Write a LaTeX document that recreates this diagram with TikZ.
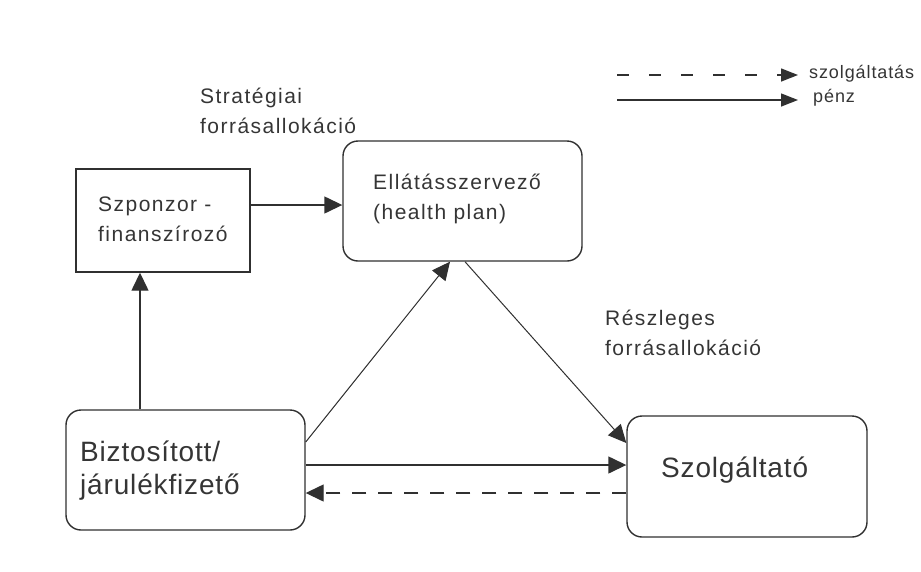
\documentclass[tikz,border=0pt]{standalone}
\usepackage{fontspec}
\setmainfont{Liberation Sans}
\usetikzlibrary{arrows.meta}
\definecolor{ink}{HTML}{303030}
\definecolor{txt}{HTML}{353535}
\newfontfamily\smallf[LetterSpace=7]{Liberation Sans}
\newfontfamily\bigf[LetterSpace=3]{Liberation Sans}
\newfontfamily\legf[LetterSpace=5]{Liberation Sans}
\begin{document}
\begin{tikzpicture}[x=1pt,y=-1pt,
  box/.style={draw=ink,line width=1.4pt,inner sep=0pt},
  rbox/.style={box,rounded corners=15pt},
  lbl/.style={text=txt,align=left,inner sep=0pt,anchor=west,font=\smallf\fontsize{21}{30}\selectfont},
  biglbl/.style={lbl,font=\bigf\fontsize{28}{33}\selectfont},
  leglbl/.style={lbl,font=\legf\fontsize{18}{20}\selectfont},
  arr/.style={draw=ink,line width=1.4pt,-{Triangle[length=18pt,width=17pt]}},
  thinarr/.style={arr,line width=1pt},
  dasharr/.style={arr,dash pattern=on 14pt off 12pt},
  legdash/.style={arr,dash pattern=on 12pt off 20pt},
  legarr/.style={arr,-{Triangle[length=17pt,width=13pt]}}]
\useasboundingbox (0,0) rectangle (921,571);
% boxes
\node[box,minimum width=174pt,minimum height=103pt] (szp) at (163,220.5) {};
\node[rbox,minimum width=239pt,minimum height=120pt] (ell) at (462.5,201) {};
\node[rbox,minimum width=239pt,minimum height=120pt] (biz) at (185.5,470) {};
\node[rbox,minimum width=240pt,minimum height=121pt] (szo) at (747,476.5) {};
% texts
\node[lbl] (tszp) at (98,219) {Szponzor -\\finanszírozó};
\node[lbl] (tell) at (373,199) {Ellátásszervező\\(health plan)};
\node[biglbl] (tbiz) at (80,471) {Biztosított/\\járulékfizető};
\node[biglbl] (tszo) at (661,470) {Szolgáltató};
\node[lbl] (tstr) at (200,111) {Stratégiai\\forrásallokáció};
\node[lbl] (tres) at (605,333) {Részleges\\forrásallokáció};
% connectors
\draw[arr] (szp.east |- 0,205) -- (ell.west |- 0,205);
\draw[arr] (biz.north -| 140,0) -- (szp.south -| 140,0);
\draw[thinarr] (biz.east |- 0,442) -- (ell.south -| 450,0);
\draw[thinarr] (ell.south -| 465,0) -- (szo.west |- 0,443);
\draw[arr] (biz.east |- 0,465) -- (szo.west |- 0,465);
\draw[dasharr] (szo.west |- 0,493) -- (biz.east |- 0,493);
% legend
\coordinate (l1a) at (617,75);
\coordinate (l1b) at (798,75);
\coordinate (l2a) at (617,100);
\coordinate (l2b) at (798,100);
\draw[legdash,legarr] (l1a) -- (l1b);
\draw[legarr] (l2a) -- (l2b);
\node[leglbl] (tleg1) at (809,74) {szolgáltatás};
\node[leglbl] (tleg2) at (813,98) {pénz};
\end{tikzpicture}
\end{document}
